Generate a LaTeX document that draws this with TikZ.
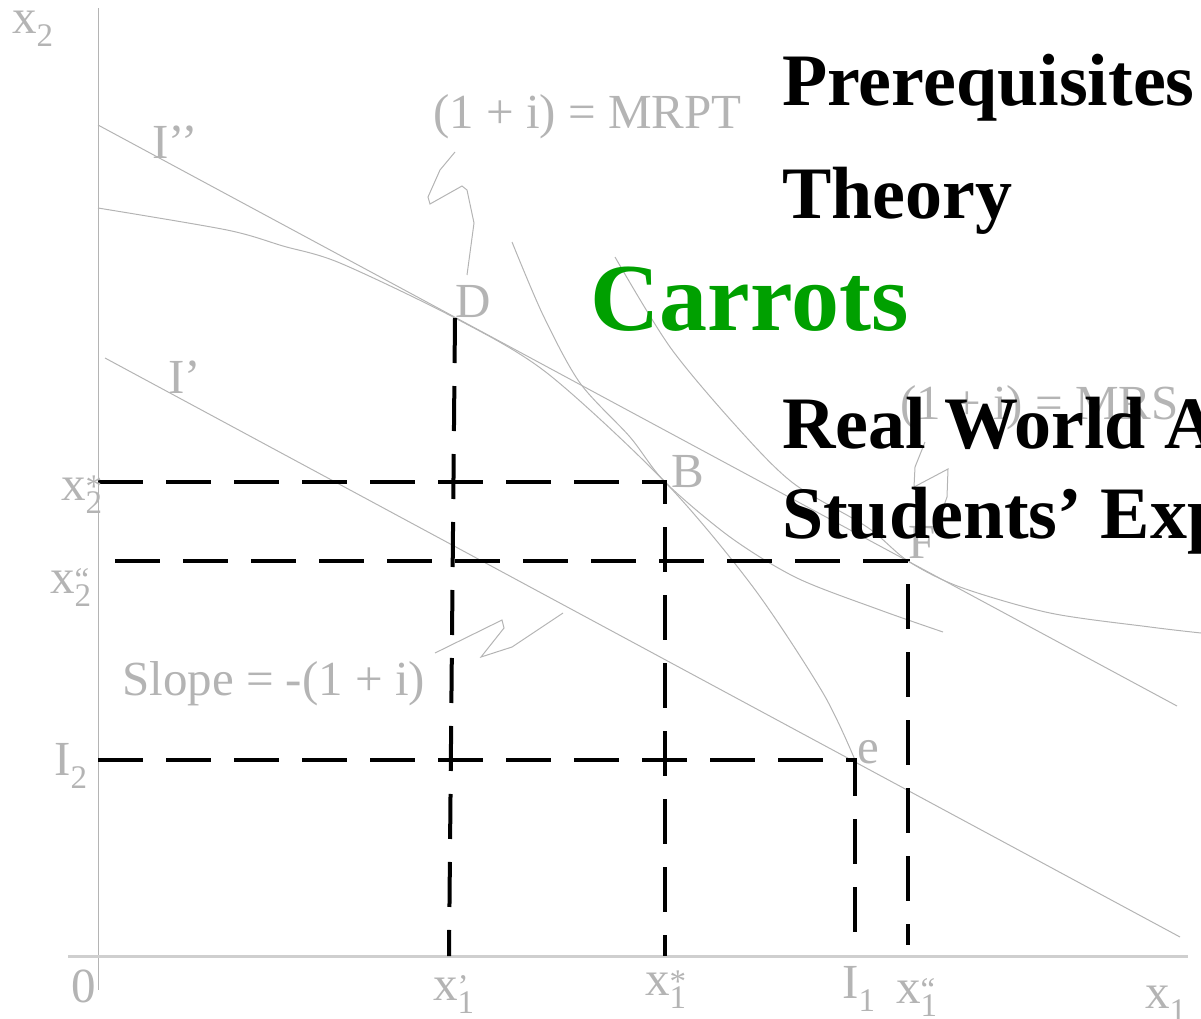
\documentclass[tikz,border=0pt]{standalone}
\usepackage{fontspec}
\setmainfont{Liberation Serif}
\usepackage{xcolor}
\usepackage{tikz}
\usetikzlibrary{calc}
\definecolor{guide}{HTML}{B4B4B4}
\definecolor{axisgray}{HTML}{CFCFCF}
\definecolor{carrot}{HTML}{00A000}
% index pair: subscript below, mark above
\newcommand\ix[2]{\rlap{\raisebox{0.05em}{\fontsize{33}{33}\selectfont #2}}\raisebox{-0.27em}{\fontsize{33}{33}\selectfont #1}}

\begin{document}
\begin{tikzpicture}[
    x=1pt,y=-1pt,
    lbl/.style={text=guide,font=\fontsize{49}{49}\selectfont,inner sep=0pt,anchor=base west},
    headline/.style={font=\bfseries\fontsize{74}{74}\selectfont,inner sep=0pt,anchor=base west},
    curve/.style={draw=guide,line width=1pt},
    guideline/.style={black,line width=4pt,dash pattern=on 45pt off 23pt},
  ]
  \useasboundingbox (0,0) rectangle (1201,1018);

  % axes
  \draw[draw=guide,line width=1pt] (98,8) -- (98,990);
  \draw[draw=axisgray,line width=3pt] (68,956) -- (1188,956);

  \coordinate (D) at (455,318);
  \coordinate (B) at (665,482);
  \coordinate (F) at (908,561);
  \coordinate (e) at (855,760);

  % budget lines
  \draw[curve] (98,125) -- (1177,706);
  \draw[curve] (105,358) -- (1180,937);

  % transformation curve and indifference curves
  \draw[curve] plot[smooth,tension=0.5] coordinates
    {(98,208) (227,230) (283,246) (340,263) (D) (547,373) (B) (753,587) (823,693) (e)};
  \draw[curve] plot[smooth,tension=0.5] coordinates
    {(512,242) (543,315) (580,383) (630,437) (B) (730,537) (797,578) (880,610) (943,632)};
  \draw[curve] plot[smooth,tension=0.5] coordinates
    {(615,257) (670,347) (737,427) (793,483) (867,527) (F) (960,587) (1050,613) (1150,627) (1201,633)};

  % pointers
  \draw[curve] (455,152) -- (440,170) -- (428,197) -- (430,204) -- (462,186) -- (467,190) -- (474,223) -- (467,275);
  \draw[curve] (925,442) -- (915,467) -- (914,487) -- (948,469) -- (947,497) -- (937,525);
  \draw[curve] (435,653) -- (502,620) -- (504,628) -- (481,657) -- (512,647) -- (563,613);

  % dashed guides
  \draw[guideline] (98,482) -- (B) -- (665,956);
  \draw[guideline] (115,561) -- (F) -- (908,945);
  \draw[guideline] (98,760) -- (e) -- (855,941);
  \draw[guideline] (D) -- (449,956);

  % labels
  \node[lbl] (xtwo) at (12,33) {x\ix{2}{}};
  \node[lbl] (xone) at (1145,1008) {x\ix{1}{}};
  \node[lbl] (zero) at (71,1002) {0};
  \node[lbl] (xonep) at (433,1000) {x\ix{1}{’}};
  \node[lbl] (xonestar) at (645,995) {x\ix{1}{*}};
  \node[lbl] (Ione) at (842,998) {I\ix{1}{}};
  \node[lbl] (xonepp) at (896,1003) {x\ix{1}{“}};
  \node[lbl] (xtwostar) at (61,500) {x\ix{2}{*}};
  \node[lbl] (xtwopp) at (50,593) {x\ix{2}{“}};
  \node[lbl] (Itwo) at (54,775) {I\ix{2}{}};
  \node[lbl] (Ipp) at (152,158) {I’’};
  \node[lbl] (Ip) at (168,393) {I’};
  \node[lbl] (Dlbl) at (455,317) {D};
  \node[lbl] (Blbl) at (671,487) {B};
  \node[lbl] (Flbl) at (908,558) {F};
  \node[lbl] (elbl) at (857,763) {e};
  \node[lbl] (mrpt) at (433,128) {(1 + i) = MRPT};
  \node[lbl] (mrs) at (900,419) {(1 + i) = MRS};
  \node[lbl] (slope) at (122,695) {Slope = -(1 + i)};

  % headings
  \node[headline] (prereq) at (782,105) {Prerequisites};
  \node[headline] (theory) at (782,218) {Theory};
  \node[headline,text=carrot,font=\bfseries\fontsize{96}{96}\selectfont] (carrots) at (590,330) {Carrots};
  \node[headline] (realworld) at (782,448) {Real World A};
  \node[headline] (students) at (782,538) {Students’ Exp};
\end{tikzpicture}
\end{document}
